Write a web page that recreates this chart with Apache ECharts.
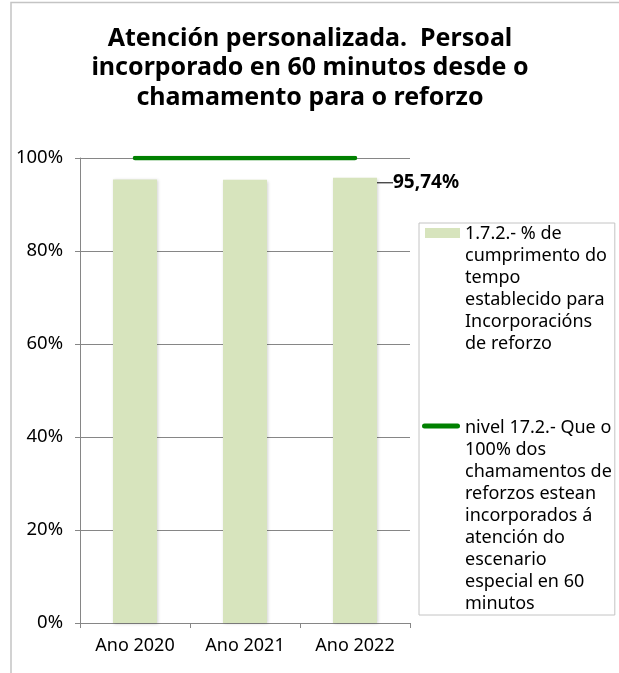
<!DOCTYPE html>
<html>
<head>
<meta charset="utf-8">
<script src="https://cdn.jsdelivr.net/npm/echarts@6/dist/echarts.min.js"></script>
<style>
html,body{margin:0;padding:0;background:#fff;}
#chart{width:619px;height:673px;}
</style>
</head>
<body>
<div id="chart"></div>
<script>
const titleText = 'Atención personalizada.  Persoal\nincorporado en 60 minutos desde o\nchamamento para o reforzo';
const categories = ['Ano 2020', 'Ano 2021', 'Ano 2022'];
const barName = '1.7.2.- % de cumprimento do tempo establecido para Incorporacións de reforzo';
const barValues = [95.4, 95.3, 95.74];
const barLabelled = [false, false, true];
const lineName = 'nivel 17.2.- Que o 100% dos chamamentos de reforzos estean incorporados á atención do escenario especial en 60 minutos';
const lineValues = [100, 100, 100];
const barLegendLines = ['1.7.2.- % de', 'cumprimento do', 'tempo', 'establecido para', 'Incorporacións', 'de reforzo', '', '', ''];
const lineLegendLines = ['nivel 17.2.- Que o', '100% dos', 'chamamentos de', 'reforzos estean', 'incorporados á', 'atención do', 'escenario', 'especial en 60', 'minutos'];
const yTicks = [0, 20, 40, 60, 80, 100];

const FONT = '"Noto Sans", "Open Sans", sans-serif';
const barColor = '#d7e4bd';
const lineColor = '#008000';
const axisGray = '#868686';

const chart = echarts.init(document.getElementById('chart'), null, {renderer: 'canvas'});

const legendText = {};
legendText[barName] = barLegendLines.join('\n');
legendText[lineName] = lineLegendLines.join('\n');

const option = {
  animation: false,
  backgroundColor: '#fff',
  graphic: [{
    type: 'rect',
    silent: true,
    shape: {x: 11, y: 2.5, width: 700, height: 700},
    style: {fill: 'none', stroke: '#c4c4c4', lineWidth: 1.5},
    z: 0
  }],
  title: {
    text: titleText,
    left: 305,
    top: 19,
    textAlign: 'center',
    textStyle: {fontFamily: FONT, fontSize: 25, fontWeight: 'bold', color: '#000', lineHeight: 29.5}
  },
  grid: {left: 80, right: 209, top: 158, bottom: 50, containLabel: false},
  legend: {
    orient: 'vertical',
    left: 419,
    top: 223,
    padding: [0, 3, 0, 1],
    borderColor: '#c4c4c4',
    borderWidth: 1,
    itemWidth: 40,
    itemHeight: 198,
    itemGap: -4,
    itemStyle: {borderWidth: 0},
    selectedMode: false,
    formatter: name => legendText[name],
    textStyle: {fontFamily: FONT, fontSize: 18, lineHeight: 22, color: '#000', width: 146},
    data: [
      {name: barName, icon: 'path://M0,0L0,0M5,5H40V15H5ZM40,198L40,198'},
      {name: lineName, icon: 'path://M0,0L0,0M4.5,6.5H37.5A2.5,2.5 0 0 1 37.5,11.5H4.5A2.5,2.5 0 0 1 4.5,6.5ZM40,198L40,198'}
    ]
  },
  xAxis: {
    type: 'category',
    data: categories,
    axisLine: {show: true, lineStyle: {color: axisGray, width: 1}},
    axisTick: {show: true, length: 5, lineStyle: {color: axisGray}},
    axisLabel: {fontFamily: FONT, fontSize: 18, color: '#000', margin: 14}
  },
  yAxis: {
    type: 'value',
    min: 0,
    max: 100,
    interval: 20,
    axisLine: {show: true, lineStyle: {color: axisGray, width: 1}},
    axisTick: {show: true, length: 5, lineStyle: {color: axisGray}},
    splitLine: {show: true, lineStyle: {color: axisGray, width: 1}},
    axisLabel: {fontFamily: FONT, fontSize: 18.5, color: '#000', margin: 17, formatter: v => v + '%'}
  },
  series: [
    {
      name: barName,
      type: 'bar',
      barWidth: '40%',
      itemStyle: {color: barColor, shadowBlur: 3, shadowColor: 'rgba(0,0,0,0.18)', shadowOffsetX: 1, shadowOffsetY: 1},
      data: barValues.map((v, i) => barLabelled[i] ? {
        value: v,
        label: {
          show: true,
          formatter: p => p.value.toFixed(2).replace('.', ',') + '%',
          fontFamily: FONT, fontSize: 19, fontWeight: 'bold', color: '#000'
        },
        labelLine: {show: true, lineStyle: {color: '#000', width: 1}}
      } : v),
      labelLayout: p => ({
        x: p.rect.x + p.rect.width + 16,
        y: p.rect.y + 5,
        align: 'left',
        verticalAlign: 'middle'
      }),
      z: 2
    },
    {
      name: lineName,
      type: 'line',
      data: lineValues,
      symbol: 'none',
      itemStyle: {color: lineColor},
      lineStyle: {color: lineColor, width: 4.5, cap: 'round'},
      z: 5
    }
  ]
};
chart.setOption(option);
</script>
</body>
</html>
